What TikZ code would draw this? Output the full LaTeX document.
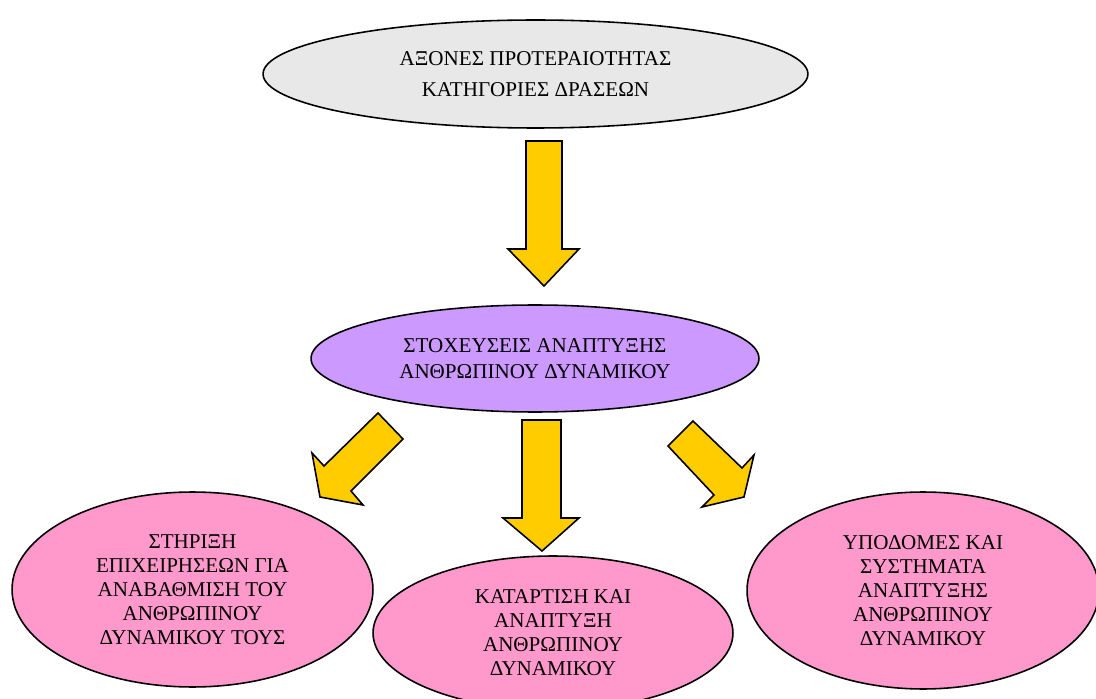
\documentclass[tikz,border=0pt]{standalone}
\usepackage{fontspec}
\setmainfont{Liberation Serif}
\usetikzlibrary{shapes.geometric}
\definecolor{topgray}{HTML}{E8E8E8}
\definecolor{midpurple}{HTML}{CC99FF}
\definecolor{botpink}{HTML}{FF99CC}
\definecolor{arrowyellow}{HTML}{FFCC00}
\tikzset{
  bubble/.style={ellipse, draw=black, line width=0.9pt, inner sep=0pt, align=center, font=\fontsize{12}{13.7}\selectfont},
  blockarrow/.style={draw=black, fill=arrowyellow, line width=0.9pt, line join=miter}
}
\begin{document}
\begin{tikzpicture}[x=0.02cm,y=-0.02cm]
\useasboundingbox (0,0) rectangle (1096,699);
\clip (0,0) rectangle (1096,699);
% ellipses
\node[bubble, fill=topgray, minimum width=10.9cm, minimum height=2.16cm,
  font=\fontsize{12}{17.6}\selectfont] (axes) at (535.5,74)
  {ΑΞΟΝΕΣ ΠΡΟΤΕΡΑΙΟΤΗΤΑΣ\\ΚΑΤΗΓΟΡΙΕΣ ΔΡΑΣΕΩΝ};
\node[bubble, fill=midpurple, minimum width=8.96cm, minimum height=2.14cm,
  font=\fontsize{12}{14.8}\selectfont] (stox) at (535,358.5)
  {ΣΤΟΧΕΥΣΕΙΣ ΑΝΑΠΤΥΞΗΣ\\ΑΝΘΡΩΠΙΝΟΥ ΔΥΝΑΜΙΚΟΥ};
\node[bubble, fill=botpink, minimum width=7.22cm, minimum height=3.9cm] (stir) at (192.5,589.5)
  {ΣΤΗΡΙΞΗ\\ΕΠΙΧΕΙΡΗΣΕΩΝ ΓΙΑ\\ΑΝΑΒΑΘΜΙΣΗ ΤΟΥ\\ΑΝΘΡΩΠΙΝΟΥ\\ΔΥΝΑΜΙΚΟΥ ΤΟΥΣ};
\node[bubble, fill=botpink, minimum width=7.2cm, minimum height=3.08cm] (kat) at (553,633)
  {ΚΑΤΑΡΤΙΣΗ ΚΑΙ\\ΑΝΑΠΤΥΞΗ\\ΑΝΘΡΩΠΙΝΟΥ\\ΔΥΝΑΜΙΚΟΥ};
\node[bubble, fill=botpink, minimum width=7.04cm, minimum height=3.94cm] (ypo) at (923,590.5)
  {ΥΠΟΔΟΜΕΣ ΚΑΙ\\ΣΥΣΤΗΜΑΤΑ\\ΑΝΑΠΤΥΞΗΣ\\ΑΝΘΡΩΠΙΝΟΥ\\ΔΥΝΑΜΙΚΟΥ};
% block arrows
\draw[blockarrow] (526,141) -- (562,141) -- (562,249) -- (579,249) -- (544,286)
  -- (508,249) -- (526,249) -- cycle;
\draw[blockarrow] (522,420) -- (561,420) -- (561,518) -- (579,518) -- (542,551)
  -- (503,518) -- (522,518) -- cycle;
\draw[blockarrow] (378,413) -- (403,439) -- (351,491) -- (363,505) -- (320,497)
  -- (312,453) -- (324,466) -- cycle;
\draw[blockarrow] (693,421) -- (668,446) -- (714,495) -- (702,507) -- (744,497)
  -- (754,455) -- (742,468) -- cycle;
\end{tikzpicture}
\end{document}
